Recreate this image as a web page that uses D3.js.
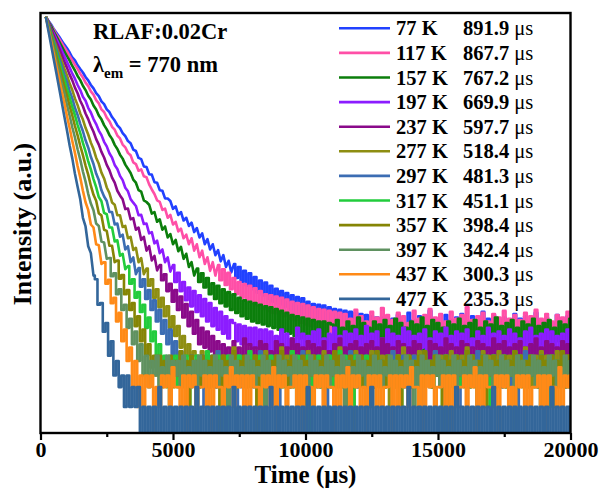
<!DOCTYPE html>
<html>
<head>
<meta charset="utf-8">
<script src="https://cdn.jsdelivr.net/npm/d3@7"></script>
<style>
  body { margin: 0; background: #fff; }
  svg { display: block; }
  text { font-family: "Liberation Serif", "Times New Roman", serif; font-weight: bold; fill: #000; }
</style>
</head>
<body>
<svg id="chart" width="604" height="496"></svg>
<script>
// ---- data -------------------------------------------------------------
const temperatures = ["77 K", "117 K", "157 K", "197 K", "237 K", "277 K",
                      "297 K", "317 K", "357 K", "397 K", "437 K", "477 K"];
const lifetimes = ["891.9", "867.7", "767.2", "669.9", "597.7", "518.4",
                   "481.3", "451.1", "398.4", "342.4", "300.3", "235.3"];
const xTickValues = [0, 5000, 10000, 15000, 20000];
const xMinorTickValues = [2500, 7500, 12500, 17500];

// decay traces: photon counts sampled every 100 µs starting at 200 µs
const counts77 = [8.8e5, 7.6e5, 6.7e5, 5.7e5, 5.0e5, 4.4e5, 3.8e5, 3.3e5, 2.9e5, 2.5e5, 2.1e5, 1.9e5, 1.6e5, 1.4e5, 1.24e5, 1.06e5,
  9.4e4, 8.0e4, 7.1e4, 6.0e4, 5.4e4, 4.5e4, 4.1e4, 3.4e4, 3.1e4, 2.6e4, 2.3e4, 1.95e4, 1.76e4, 1.48e4, 1.33e4, 1.12e4,
  10400, 8300, 7900, 6200, 5950, 4600, 4500, 3500, 3450, 2650, 2600, 2000, 1960, 1500, 1490,
  1370, 1040, 1130, 840, 930, 690, 760, 570, 640, 460, 530, 380, 440, 300, 360, 250, 300, 205, 245, 165, 205, 135, 168, 112,
  150, 92, 135, 80, 118, 70, 108, 62, 95, 55, 84, 50, 78, 44, 70, 40, 63, 36, 58, 33, 54, 30,
  50, 27, 47, 25, 45, 23, 40, 21, 37, 19,
  36, 17, 35, 16, 33, 15, 31, 15, 30, 14, 29, 13,
  28, 13, 27, 12, 26, 12, 25, 11, 24, 11, 23, 10, 23, 10, 22, 10,
  22, 10, 25, 11, 19, 9, 27, 12, 21, 10, 24, 9, 20, 12, 29, 10, 22, 11, 18, 9,
  25, 12, 21, 10, 23, 8, 26, 11, 20, 10, 24, 12, 19, 9, 28, 11, 22, 10, 25, 9,
  21, 12, 23, 10, 18, 11, 26, 9, 22, 10, 24, 11, 20, 12, 27, 10, 21, 9, 23, 11,
  19, 10, 25, 12, 22, 9, 24, 11];

const counts117 = [8.8e5, 7.5e5, 6.4e5, 5.6e5, 4.7e5, 4.1e5, 3.5e5, 3.0e5, 2.6e5, 2.2e5, 1.9e5, 1.62e5, 1.41e5, 1.19e5, 1.04e5, 8.7e4,
  7.7e4, 6.4e4, 5.7e4, 4.7e4, 4.2e4, 3.4e4, 3.1e4, 2.55e4, 2.25e4, 1.85e4, 1.67e4, 1.36e4, 1.23e4, 9900, 9000, 7400,
  6800, 5300, 5000, 3950, 4150, 3250, 3150, 2450, 2050, 1750, 1400,
  1330, 1000, 1050, 760, 840, 600, 660, 470, 520, 370,
  420, 300, 370, 240, 300, 190, 240, 150, 190, 118,
  160, 100, 145, 85, 125, 72, 110, 62, 92, 52,
  80, 46, 74, 42, 70, 38, 64, 35, 58, 31,
  52, 29, 50, 27, 48, 26, 46, 24, 43, 22,
  40, 21, 38, 19, 37, 18, 35, 17, 33, 16,
  31, 15, 30, 14, 29, 14, 28, 13, 27, 13,
  26, 12, 22, 10, 30, 13, 24, 11, 20, 12, 28, 10, 23, 13, 32, 11, 25, 9, 21, 12,
  27, 11, 24, 13, 19, 10, 29, 12, 22, 11, 25, 9, 31, 12, 23, 10, 26, 13, 20, 11,
  28, 12, 22, 10, 25, 11, 33, 12, 21, 10, 24, 13, 27, 11, 20, 12, 26, 9, 23, 11,
  29, 12, 22, 10, 25, 13, 21, 11, 27, 10, 24, 12, 30, 11, 22, 10, 26, 13, 20, 11,
  25, 12, 23, 10, 28, 11];

const counts157 = [8.8e5, 7.4e5, 6.3e5, 5.2e5, 4.4e5, 3.7e5, 3.1e5, 2.6e5, 2.2e5, 1.88e5, 1.56e5, 1.33e5, 1.10e5, 9.5e4, 7.8e4, 6.7e4,
  5.5e4, 4.8e4, 3.9e4, 3.4e4, 2.75e4, 2.4e4, 1.96e4, 1.69e4, 1.39e4, 1.21e4, 9800, 8500, 6950, 6050, 4900, 4250,
  3650, 2900, 2600, 2000, 1900, 1400, 1320,
  1200, 880, 930, 660, 720, 500, 560, 380, 430, 300, 350, 235, 275, 180, 215, 135, 160,
  100, 128, 80, 108, 66, 92, 52, 76,
  44, 70, 38, 62, 34, 56, 30, 52, 27, 46,
  24, 42, 22, 40, 20, 38, 19, 36, 18,
  34, 17, 33, 16, 31, 15, 29, 14, 27, 13, 25, 12, 24,
  11, 23, 10, 22, 10, 21, 9, 20, 9, 20, 8, 19,
  18, 8, 21, 9, 16, 7, 20, 10, 17, 8, 23, 9, 19, 7, 16, 10, 20, 8, 18, 6,
  21, 9, 17, 8, 22, 10, 19, 7, 16, 9, 20, 8, 18, 10, 23, 7, 17, 9, 21, 8,
  19, 6, 16, 9, 20, 8, 18, 10, 22, 7, 17, 9, 19, 8, 21, 10, 16, 7, 20, 9,
  18, 8, 23, 9, 17, 7, 19, 10, 21, 8, 16, 9, 20, 7, 18, 10, 22, 8, 17, 9,
  19, 7, 21, 8, 16, 10, 20, 9, 18, 6, 22];

const counts197 = [8.8e5, 7.2e5, 5.8e5, 4.9e5, 4.0e5, 3.3e5, 2.7e5, 2.2e5, 1.8e5, 1.48e5, 1.19e5, 1.0e5, 8.0e4, 6.7e4, 5.3e4, 4.6e4,
  3.6e4, 3.05e4, 2.42e4, 2.03e4, 1.62e4, 1.38e4, 1.09e4, 9300, 7300, 6250, 4850, 4200, 3300, 2850, 2180, 1920, 1460, 1290,
  1150, 830, 840, 610, 620, 440, 460, 310, 340, 220, 250, 160, 190, 115, 145, 80, 110, 58, 80, 42,
  66, 34, 58, 28, 50, 24, 44, 20, 38, 17, 32, 15, 28, 13, 24, 11, 21,
  19, 10, 18, 9, 17, 9, 16, 8, 16, 8, 15, 7, 15, 7,
  14, 6, 12, 7, 15, 5, 13, 8, 11, 6, 16, 7, 13, 5, 12, 8, 14, 6, 15, 7,
  11, 6, 13, 5, 16, 7, 12, 8, 14, 6, 13, 5, 15, 7, 12, 6, 17, 8, 13, 5,
  14, 7, 11, 6, 15, 5, 13, 8, 12, 6, 16, 7, 14, 5, 12, 6, 13, 8, 15, 7,
  11, 5, 14, 6, 13, 7, 16, 6, 12, 8, 14, 5, 13, 7, 15, 6, 11, 8, 14, 6,
  12, 5, 16, 7, 13, 6, 14, 8, 12, 5, 15, 7, 13, 6, 11, 8, 14, 5, 16, 7,
  12, 6, 13, 7, 15, 5, 14, 8, 12, 6, 13, 7, 15, 6];

const counts237 = [8.8e5, 7.0e5, 5.7e5, 4.5e5, 3.6e5, 2.9e5, 2.3e5, 1.8e5, 1.46e5, 1.15e5, 9.4e4, 7.3e4, 6.0e4, 4.6e4, 3.8e4, 2.95e4,
  2.42e4, 1.9e4, 1.55e4, 1.2e4, 9900, 7650, 6300, 4850, 4050, 3100, 2600, 1960, 1660,
  1450, 1030, 1050, 720, 750, 500, 540, 350, 390, 240, 280, 170, 200, 120, 145, 85, 105, 58, 75, 40,
  60, 30, 48, 23, 37, 17, 28, 13, 21, 9,
  16, 8, 14, 7, 12, 6, 10, 5,
  9, 4, 8, 3, 10, 5, 8, 4, 11, 3, 9, 5, 8, 4, 10, 3, 9, 5, 7, 4,
  10, 3, 9, 4, 8, 5, 11, 4, 9, 3, 8, 5, 10, 4, 9, 3, 8, 4, 10, 5,
  7, 4, 9, 3, 11, 4, 8, 5, 9, 3, 10, 4, 8, 5, 9, 3, 10, 4, 8, 4,
  11, 3, 9, 5, 8, 4, 10, 3, 9, 4, 8, 5, 10, 3, 9, 4, 7, 5, 10, 4,
  9, 3, 8, 4, 11, 5, 9, 3, 8, 4, 10, 4, 9, 5, 8, 3, 10, 4, 9, 3,
  8, 5, 11, 4, 9, 3, 10, 4, 8, 5, 9, 3, 10, 4, 8, 4, 9, 5, 11, 3,
  8, 4, 10, 5, 9, 3, 8, 4, 10, 4, 9, 3];

const counts277 = [8.8e5, 6.8e5, 5.2e5, 4.0e5, 3.1e5, 2.4e5, 1.87e5, 1.43e5, 1.12e5, 8.4e4, 6.7e4, 5.0e4, 3.95e4, 2.95e4, 2.38e4, 1.78e4,
  1.41e4, 1.06e4, 8450, 6250, 5050, 3700, 3020, 2200, 1810, 1300,
  1200, 830, 830, 550, 570, 370, 390, 245, 265, 160, 185, 105, 128, 70, 88, 46,
  62, 33, 46, 24, 34, 16, 24, 12, 17, 8, 12, 6, 9, 4, 7,
  6, 3, 7, 2, 6, 3, 5, 2, 7, 3, 6, 1, 6, 3, 8, 2, 6, 3, 5, 2,
  7, 3, 6, 0, 6, 3, 7, 2, 5, 3, 6, 2, 8, 3, 6, 2, 7, 3, 5, 1,
  6, 3, 7, 2, 6, 3, 5, 2, 7, 3, 6, 2, 6, 3, 8, 2, 5, 3, 6, 0,
  7, 2, 6, 3, 5, 2, 7, 3, 6, 2, 6, 3, 5, 1, 7, 3, 6, 2, 8, 3,
  5, 2, 6, 3, 7, 2, 6, 3, 5, 2, 7, 3, 6, 2, 6, 0, 7, 3, 5, 2,
  6, 3, 8, 2, 6, 3, 5, 2, 7, 3, 6, 1, 6, 3, 7, 2, 5, 3, 6, 2,
  7, 3, 6, 2, 8, 3, 5, 2, 6, 3, 7, 2, 6, 3, 5, 1, 7, 3, 6, 2,
  6, 3];

const counts297 = [8.8e5, 6.6e5, 4.9e5, 3.7e5, 2.8e5, 2.07e5, 1.57e5, 1.16e5, 8.9e4, 6.5e4, 5.0e4, 3.6e4, 2.8e4, 2.05e4, 1.58e4, 1.15e4,
  8950, 6450, 5000, 3580, 2850, 1990, 1600,
  1370, 930, 930, 600, 620, 390, 420, 250, 280, 160, 190, 105, 130, 68, 88, 44,
  60, 30, 42, 20, 30, 13, 21, 9, 15, 6, 10, 4, 7, 3,
  5, 2, 6, 3, 5, 2, 6, 1, 5, 3, 6, 2, 7, 3, 5, 2, 6, 3, 5, 0,
  6, 2, 5, 3, 6, 2, 5, 3, 7, 2, 5, 3, 6, 2, 5, 1, 6, 3, 5, 2,
  6, 3, 5, 2, 7, 3, 6, 2, 5, 3, 6, 2, 5, 0, 6, 3, 5, 2, 6, 3,
  5, 2, 7, 3, 6, 2, 5, 3, 6, 1, 5, 2, 6, 3, 5, 2, 6, 3, 7, 2,
  5, 3, 6, 2, 5, 3, 6, 2, 5, 0, 6, 3, 5, 2, 7, 3, 5, 2, 6, 3,
  5, 2, 6, 1, 5, 3, 6, 2, 5, 3, 7, 2, 6, 3, 5, 2, 6, 3, 5, 2,
  6, 3, 5, 2, 6, 0, 5, 3, 7, 2, 6, 3, 5, 2, 6, 1, 5, 3, 6, 2,
  5, 3, 6, 2, 5, 3];

const counts317 = [8.8e5, 6.4e5, 4.7e5, 3.4e5, 2.5e5, 1.83e5, 1.31e5, 9.8e4, 6.9e4, 5.2e4, 3.7e4, 2.77e4, 1.98e4, 1.48e4, 1.05e4, 7800,
  5550, 4150, 2950, 2220, 1570,
  1360, 900, 860, 540, 540, 330, 345, 200, 215, 125, 140, 75, 88, 46, 56, 28, 36, 16, 23, 10, 14, 6, 9, 4, 6,
  2, 5, 3, 6, 2, 5, 3, 6, 1, 5, 3, 6, 2, 5, 3, 7, 2, 5, 3, 6,
  2, 5, 0, 6, 3, 5, 2, 6, 3, 5, 2, 7, 3, 5, 2, 6, 1, 5, 3, 6,
  2, 5, 3, 6, 2, 5, 3, 7, 2, 6, 3, 5, 2, 6, 0, 5, 3, 6, 2, 5,
  3, 6, 2, 5, 3, 7, 2, 6, 3, 5, 1, 6, 3, 5, 2, 6, 3, 5, 2, 7,
  3, 5, 2, 6, 3, 5, 2, 6, 1, 5, 3, 6, 2, 5, 3, 6, 2, 7, 3, 5,
  2, 6, 3, 5, 0, 6, 2, 5, 3, 6, 2, 5, 3, 7, 2, 6, 3, 5, 2, 6,
  3, 5, 1, 6, 2, 5, 3, 6, 2, 5, 3, 7, 2, 6, 3, 5, 2, 6, 3, 5,
  2, 6, 3, 5, 1, 6, 3, 5, 2, 6, 3, 5, 2];

const counts357 = [8.8e5, 6.2e5, 4.4e5, 3.1e5, 2.2e5, 1.54e5, 1.1e5, 7.6e4, 5.5e4, 3.8e4, 2.75e4, 1.9e4, 1.37e4, 9500, 6850, 4750,
  3450, 2340, 1700,
  1380, 890, 820, 500, 480, 285, 285, 160, 170, 90, 102, 52, 60,
  30, 38, 17, 24, 10, 15, 6, 9, 4, 6,
  3, 6, 2, 5, 3, 6, 2, 5, 3, 7, 2, 5, 1, 6, 3, 5, 2, 6, 3, 5,
  2, 6, 3, 5, 0, 6, 2, 5, 3, 7, 2, 5, 3, 6, 2, 5, 3, 6, 1, 5,
  3, 6, 2, 5, 3, 6, 2, 7, 3, 5, 2, 6, 3, 5, 2, 6, 0, 5, 3, 6,
  2, 5, 3, 6, 2, 5, 3, 7, 2, 6, 3, 5, 1, 6, 2, 5, 3, 6, 2, 5,
  3, 6, 2, 7, 3, 5, 2, 6, 3, 5, 2, 6, 1, 5, 3, 6, 2, 5, 3, 6,
  2, 7, 3, 5, 2, 6, 3, 5, 0, 6, 3, 5, 2, 6, 3, 5, 2, 7, 3, 6,
  2, 5, 3, 6, 1, 5, 3, 6, 2, 5, 3, 6, 2, 5, 3, 7, 2, 6, 3, 5,
  2, 6, 3, 5, 2, 6, 1, 5, 3, 6, 2, 5, 3, 7, 2, 6, 3];

const counts397 = [8.8e5, 6.0e5, 4.1e5, 2.76e5, 1.86e5, 1.28e5, 8.5e4, 6.0e4, 3.95e4, 2.72e4, 1.82e4, 1.27e4, 8400, 5850, 3850, 2700, 1760, 1250,
  990, 620, 570, 330, 320, 180, 185, 98, 108, 52, 62,
  30, 36, 16, 22, 9, 14, 5, 9, 3, 6,
  2, 5, 3, 6, 2, 4, 3, 6, 1, 5, 3, 5, 2, 6, 3, 4, 2, 5, 0, 6,
  3, 5, 2, 4, 3, 6, 2, 5, 3, 4, 1, 6, 2, 5, 3, 4, 2, 6, 3, 5,
  2, 4, 3, 6, 0, 5, 2, 4, 3, 6, 2, 5, 3, 4, 2, 6, 1, 5, 3, 4,
  2, 6, 3, 5, 2, 4, 3, 6, 2, 5, 3, 4, 2, 6, 0, 5, 3, 4, 2, 6,
  3, 5, 2, 4, 1, 6, 3, 5, 2, 4, 3, 6, 2, 5, 3, 4, 2, 6, 3, 5,
  1, 4, 2, 6, 3, 5, 2, 4, 3, 6, 2, 5, 0, 4, 3, 6, 2, 5, 3, 4,
  2, 6, 3, 5, 1, 4, 2, 6, 3, 5, 2, 4, 3, 6, 2, 5, 3, 4, 0, 6,
  3, 5, 2, 4, 3, 6, 2, 5, 1, 4, 2, 6, 3, 5, 2, 4, 3, 6, 2, 5];

const counts437 = [8.8e5, 5.7e5, 3.7e5, 2.4e5, 1.53e5, 1.01e5, 6.4e4, 4.25e4, 2.68e4, 1.77e4, 1.12e4, 7400, 4650, 3120, 1960, 1310,
  1000, 600, 540, 300, 290, 150, 160, 75, 86, 38,
  46, 20, 27, 10, 15, 5, 8, 2, 5, 1,
  3, 1, 3, 2, 3, 0, 2, 1, 3, 2, 3, 1, 4, 2, 2, 1, 3, 0, 3, 2,
  3, 1, 2, 2, 3, 1, 3, 0, 3, 2, 2, 1, 3, 2, 4, 1, 3, 2, 3, 0,
  3, 1, 3, 2, 2, 1, 3, 2, 3, 1, 4, 0, 3, 2, 3, 1, 2, 2, 3, 1,
  3, 0, 3, 2, 2, 1, 3, 2, 3, 1, 3, 2, 2, 0, 3, 1, 3, 2, 4, 1,
  3, 2, 3, 1, 2, 0, 3, 2, 3, 1, 3, 1, 2, 2, 3, 0, 3, 1, 3, 2,
  3, 1, 4, 2, 2, 1, 3, 0, 3, 2, 3, 1, 2, 2, 3, 1, 3, 0, 3, 1,
  2, 2, 3, 1, 3, 2, 4, 0, 3, 1, 3, 2, 2, 1, 3, 0, 3, 2, 3, 1,
  2, 1, 3, 2, 3, 0, 3, 1, 2, 2, 3, 1, 3, 0, 3, 2, 2, 1, 4, 1,
  3, 2, 3];

const counts477 = [8.8e5, 5.3e5, 3.25e5, 1.98e5, 1.21e5, 7.3e4, 4.4e4, 2.65e4, 1.62e4, 9600, 6100, 3550, 2250,
  1450, 760, 560, 280, 220, 100, 88, 36, 38, 14, 19, 6, 10, 3, 5, 2,
  3, 1, 3, 1, 2, 1, 2, 0,
  1, 0, 1, 0, 1, 0, 2, 0, 1, 0, 1, 0, 1, 0, 1, 0, 1, 0, 1, 0,
  2, 0, 1, 0, 1, 0, 1, 0, 1, 0, 1, 0, 1, 0, 2, 0, 1, 0, 1, 0,
  1, 0, 1, 0, 1, 0, 1, 0, 2, 0, 1, 0, 1, 0, 1, 0, 1, 0, 1, 0,
  1, 0, 2, 0, 1, 0, 1, 0, 1, 0, 1, 0, 1, 0, 1, 0, 1, 0, 1, 0,
  1, 0, 1, 0, 1, 0, 2, 0, 1, 0, 1, 0, 1, 0, 1, 0, 1, 0, 1, 0,
  2, 0, 1, 0, 1, 0, 1, 0, 1, 0, 1, 0, 1, 0, 1, 0, 1, 0, 2, 0,
  1, 0, 1, 0, 1, 0, 1, 0, 1, 0, 1, 0, 2, 0, 1, 0, 1, 0, 1, 0,
  1, 0, 1, 0, 1, 0, 1, 0, 1, 0, 1, 0, 1, 0, 2, 0, 1, 0, 1, 0,
  1, 0];

const series = [counts77, counts117, counts157, counts197, counts237, counts277,
                counts297, counts317, counts357, counts397, counts437, counts477];
const colors = ["#2141ff", "#ff4fa7", "#0b7e0b", "#8c1cff", "#8a0a8a", "#8e8e12",
                "#3c6db3", "#22cc3c", "#858505", "#5f9160", "#ff8a17", "#33669a"];

// ---- layout -----------------------------------------------------------
const svg = d3.select("#chart");
const plot = { left: 40.5, right: 570.5, top: 13, bottom: 433 };
const yFloor = 0.4;

const x = d3.scaleLinear().domain([0, 20000]).range([plot.left, plot.right]);
const y = d3.scaleLog().domain([yFloor, 1e6]).range([plot.bottom, plot.top]);
const times = d3.range(200, 20001, 100);

// Straight segments while the signal is strong; histogram-style steps
// once the counts drop into the noisy low-count regime.
const stepBelowY = y(100);
function curveCounts(context) {
  let px, py, started;
  return {
    areaStart() {}, areaEnd() {},
    lineStart() { started = false; },
    lineEnd() {},
    point(cx, cy) {
      if (!started) { context.moveTo(cx, cy); started = true; }
      else if (py <= stepBelowY && cy <= stepBelowY) { context.lineTo(cx, cy); }
      else {
        const xm = (px + cx) / 2;
        context.lineTo(xm, py);
        context.lineTo(xm, cy);
        context.lineTo(cx, cy);
      }
      px = cx; py = cy;
    }
  };
}

svg.append("defs").append("clipPath").attr("id", "plotClip")
  .append("rect")
  .attr("x", plot.left).attr("y", plot.top)
  .attr("width", plot.right - plot.left).attr("height", plot.bottom - plot.top);

const line = d3.line()
  .curve(curveCounts)
  .x((d, i) => x(times[i]))
  .y(d => y(Math.max(d, yFloor)));

const traces = svg.append("g").attr("clip-path", "url(#plotClip)");
series.forEach((values, k) => {
  traces.append("path")
    .attr("d", line(values))
    .attr("fill", "none")
    .attr("stroke", colors[k])
    .attr("stroke-width", 2.6)
    .attr("stroke-linejoin", "round");
});

// ---- axes & frame -----------------------------------------------------
const xAxis = svg.append("g")
  .attr("transform", `translate(0,${plot.bottom})`)
  .call(d3.axisBottom(x).tickValues(xTickValues).tickSize(7).tickPadding(1)
        .tickFormat(d3.format("d")));
xAxis.select(".domain").remove();
xAxis.selectAll("line").attr("stroke", "#000").attr("stroke-width", 2.2);
xAxis.selectAll("text")
  .style("font-family", '"Liberation Serif", "Times New Roman", serif')
  .style("font-weight", "bold").style("font-size", "22px").attr("fill", "#000");

const xMinor = svg.append("g")
  .attr("transform", `translate(0,${plot.bottom})`)
  .call(d3.axisBottom(x).tickValues(xMinorTickValues).tickSize(4).tickFormat(""));
xMinor.select(".domain").remove();
xMinor.selectAll("line").attr("stroke", "#000").attr("stroke-width", 2.2);

svg.append("rect")
  .attr("x", plot.left).attr("y", plot.top)
  .attr("width", plot.right - plot.left).attr("height", plot.bottom - plot.top)
  .attr("fill", "none").attr("stroke", "#000").attr("stroke-width", 2.4);

svg.append("text")
  .attr("x", (plot.left + plot.right) / 2).attr("y", 483)
  .attr("text-anchor", "middle").style("font-size", "25px")
  .text("Time (μs)");

svg.append("text")
  .attr("transform", `translate(31,${(plot.top + plot.bottom) / 2 + 1}) rotate(-90)`)
  .attr("text-anchor", "middle").style("font-size", "26px")
  .text("Intensity (a.u.)");

// ---- annotations ------------------------------------------------------
svg.append("text").attr("x", 93).attr("y", 39).style("font-size", "22.5px")
  .text("RLAF:0.02Cr");

const lambda = svg.append("text").attr("x", 93).attr("y", 72).style("font-size", "22.5px");
lambda.append("tspan").text("λ");
lambda.append("tspan").attr("dy", 6).style("font-size", "15px").text("em");
lambda.append("tspan").attr("dy", -6).text(" = 770 nm");

// ---- legend -----------------------------------------------------------
const legend = svg.append("g");
temperatures.forEach((label, k) => {
  const cy = 28.3 + k * 24.6;
  legend.append("line")
    .attr("x1", 339).attr("x2", 390).attr("y1", cy).attr("y2", cy)
    .attr("stroke", colors[k]).attr("stroke-width", 2.6);
  legend.append("text").attr("x", 396).attr("y", cy + 7)
    .style("font-size", "20.5px").text(label);
  const v = legend.append("text").attr("x", 463).attr("y", cy + 7).style("font-size", "20.5px");
  v.append("tspan").text(lifetimes[k] + " ");
  v.append("tspan").style("font-weight", "normal").text("μs");
});
</script>
</body>
</html>
